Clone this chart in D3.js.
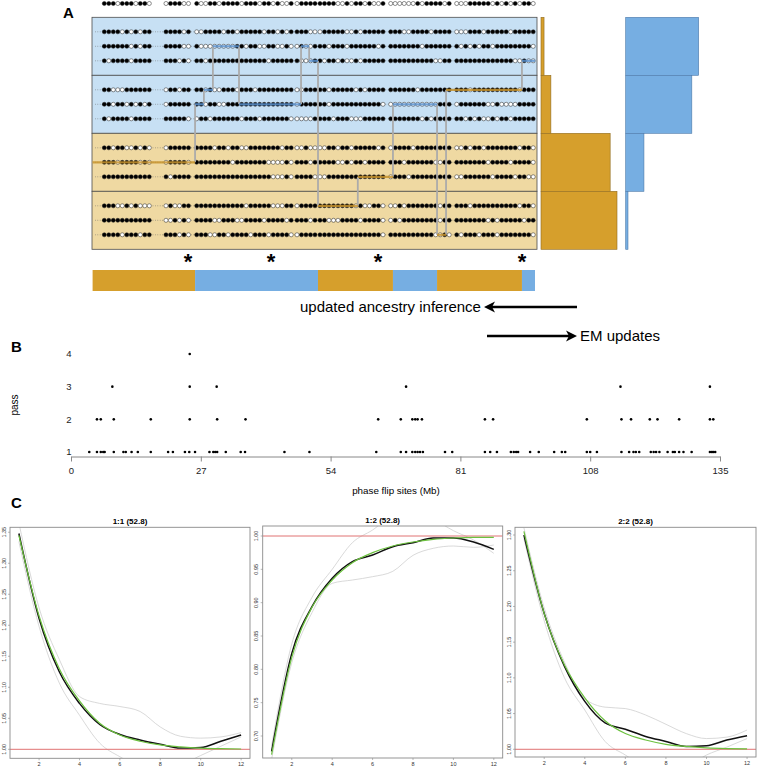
<!DOCTYPE html>
<html>
<head>
<meta charset="utf-8">
<script src="https://cdn.jsdelivr.net/npm/d3@7"></script>
<style>
body { margin: 0; background: #fff; }
svg { display: block; font-family: "Liberation Sans", Arial, sans-serif; }
</style>
</head>
<body>
<svg id="fig" width="757" height="768"></svg>
<script>
// ---------- data: panel A ----------
var topHap = "11101110110 011100 1001101111011101101001 01111 111100101101001 00000010111101 000111110101010110";

var haps = [
    "11110101011 111101 0011110110111110110101 11100 011111001011111 11100111101111 000111011111011111",
    "11111101011 111100 1000000001101100110010 01001 110111011111101 11111110111111 101010110111111110",
    "10111101111 111010 1101111111111111011111 10001 101101001011111 11111111110011 111111111111100100",
    "11000111111 011011 1101001110111011111111 00111 110111110101111 11111101111111 111011111111110111",
    "11011010101 011111 1101100111111111111111 01111 110111111111110 00000000000111 011111100100001111",
    "10111101111 111110 0110111111011101111110 00001 111011100011111 11111110101111 110101001011011111",
    "11011001010 011111 1111011011001111111011 00100 001101101111101 01111011111111 001011011111110110",
    "11101111010 011110 1111111101111111000010 11101 111100101101111 11101111110011 111111101111011110",
    "11111111111 101111 1111111111111111100010 11110 001111111111111 01110111111111 001111110111101100",
    "11100101000 010011 1111111111101111100011 01111 111111110100110 00101111111011 111011111111110110",
    "11111111111 001010 1111001110011110111101 11101 110001111011110 01011111111011 111111101011111011",
    "11110111011 111010 1110011011110111011110 01111 111111111111110 11111111110010 101110111011111110"
];

var blockAnc = ["blue", "blue", "tan", "tan"];
var tanShare = [0.04, 0.13, 0.91, 1.00];
var blueShare = [0.96, 0.87, 0.24, 0.03];

// breakpoints are in dot-index units
var ancestry = [
    {from: -2.6, to: 16.8, anc: "tan"},
    {from: 16.8, to: 43.6, anc: "blue"},
    {from: 43.6, to: 59.5, anc: "tan"},
    {from: 59.5, to: 69.3, anc: "blue"},
    {from: 69.3, to: 87.5, anc: "tan"},
    {from: 87.5, to: 90.4, anc: "blue"}
];
var switches = [
    {at: 16.8, r1: 4, r2: 7},
    {at: 18.6, r1: 3, r2: 4},
    {at: 20.6, r1: 1, r2: 3},
    {at: 26.4, r1: 1, r2: 4},
    {at: 39.9, r1: 1, r2: 4},
    {at: 41.7, r1: 1, r2: 2},
    {at: 43.6, r1: 2, r2: 9},
    {at: 52.4, r1: 8, r2: 9},
    {at: 59.5, r1: 4, r2: 8},
    {at: 69.3, r1: 4, r2: 11},
    {at: 71.3, r1: 3, r2: 11},
    {at: 87.5, r1: 2, r2: 3}
];
var swapped = [
    {row: 1, from: 20.6, to: 26.4, anc: "blue"},
    {row: 3, from: 18.6, to: 20.6, anc: "blue"},
    {row: 4, from: 16.8, to: 18.6, anc: "blue"},
    {row: 4, from: 26.4, to: 39.9, anc: "blue"},
    {row: 1, from: 39.9, to: 41.7, anc: "blue"},
    {row: 2, from: 41.7, to: 43.6, anc: "blue"},
    {row: 2, from: 87.5, to: 90.4, anc: "blue"},
    {row: 4, from: 59.5, to: 69.3, anc: "blue"},
    {row: 3, from: 71.3, to: 87.5, anc: "tan"},
    {row: 7, from: -2.6, to: 16.8, anc: "tan"},
    {row: 8, from: 52.4, to: 59.5, anc: "tan"},
    {row: 9, from: 43.6, to: 52.4, anc: "tan"},
    {row: 11, from: 69.3, to: 71.3, anc: "tan"}
];
var stars = [15.9, 33.5, 56.9, 87.5];

// ---------- data: panel B ----------
var pass1 = [3.8, 5.4, 6.2, 6.7, 7.0, 8.9, 10.9, 11.4, 12.6, 13.9, 16.6, 20.2, 21.2, 23.7, 24.6, 25.8,
    28.8, 29.6, 30.0, 30.4, 32.2, 35.3, 36.2, 44.4, 49.6, 63.5, 68.6, 69.7, 71.0, 71.6, 72.1, 72.6, 73.2,
    77.8, 79.3, 86.1, 87.2, 88.6, 91.5, 92.1, 92.6, 93.0, 95.5, 97.3, 100.5, 102.1, 102.8, 107.3, 108.0,
    109.4, 114.5, 116.1, 117.0, 117.5, 118.2, 120.6, 121.2, 121.7, 122.4, 124.1, 125.2, 125.6, 126.5,
    127.4, 129.1, 132.9, 133.3, 133.6, 134.0];
var pass2 = [5.4, 6.2, 8.9, 16.6, 24.7, 30.4, 36.3, 63.9, 68.6, 71.0, 71.6, 72.1, 73.0, 86.1, 87.8,
    107.3, 114.5, 116.5, 120.4, 122.0, 126.5, 132.9, 133.6];
var pass3 = [8.6, 24.7, 30.3, 69.7, 114.3, 132.9];
var pass4 = [24.7];
var mbTicks = [0, 27, 54, 81, 108, 135];
var passTicks = [1, 2, 3, 4];

// ---------- data: panel C ----------
var lag = [1, 2, 3, 4, 5, 6, 7, 8, 9, 10, 11, 12];
var lagTicks = [2, 4, 6, 8, 10, 12];

var c11Obs = [1.348, 1.211, 1.125, 1.074, 1.040, 1.024, 1.015, 1.008, 1.002, 1.003, 1.013, 1.023];
var c11Fit = [1.345, 1.215, 1.130, 1.078, 1.042, 1.023, 1.013, 1.007, 1.004, 1.002, 1.001, 1.0005];
var c11Hi  = [1.365, 1.228, 1.145, 1.085, 1.074, 1.069, 1.061, 1.036, 1.021, 1.018, 1.020, 1.027];
var c11Lo  = [1.335, 1.198, 1.107, 1.055, 1.010, 0.988, 0.972, 0.966, 0.975, 0.990, 1.005, 1.020];

var c12Obs = [0.677, 0.824, 0.894, 0.9365, 0.9615, 0.9715, 0.984, 0.990, 0.997, 0.997, 0.991, 0.980];
var c12Fit = [0.672, 0.818, 0.893, 0.934, 0.960, 0.975, 0.985, 0.991, 0.995, 0.997, 0.998, 0.998];
var c12Hi  = [0.685, 0.838, 0.908, 0.950, 0.990, 1.009, 1.030, 1.035, 1.025, 1.008, 0.994, 0.974];
var c12Lo  = [0.665, 0.810, 0.885, 0.929, 0.934, 0.939, 0.947, 0.971, 0.9815, 0.985, 0.983, 0.9865];

var c22Obs = [1.300, 1.190, 1.116, 1.067, 1.037, 1.028, 1.018, 1.011, 1.004, 1.005, 1.013, 1.019];
var c22Fit = [1.305, 1.190, 1.118, 1.072, 1.040, 1.022, 1.013, 1.007, 1.004, 1.002, 1.001, 1.0005];
var c22Hi  = [1.310, 1.198, 1.122, 1.071, 1.059, 1.057, 1.048, 1.035, 1.022, 1.015, 1.017, 1.027];
var c22Lo  = [1.295, 1.180, 1.100, 1.055, 1.011, 0.992, 0.975, 0.968, 0.975, 0.992, 1.003, 1.015];

// ---------- styles ----------
var TAN = "#D69F2C", BLUE = "#76AEE2";
var TAN_BG = "#EFD9A2", BLUE_BG = "#C7E0F4";
var TAN_LINE = "#C9952E", BLUE_LINE = "#5B92CF";

var svg = d3.select("#fig");

function panelLetter(t, x, y) {
    svg.append("text").attr("x", x).attr("y", y).text(t)
        .style("font-size", "15px").style("font-weight", "bold");
}

// ===================== PANEL A =====================
panelLetter("A", 63, 18);

// piecewise scale: dot index -> x (groups of dots with gaps between them)
var dotX = d3.scaleLinear()
    .domain([0, 10, 11, 16, 17, 38, 39, 43, 44, 58, 59, 72, 73, 90])
    .range([104.3, 149.3, 166, 188.5, 196.7, 291.2, 297, 315, 320, 383, 390.7, 449.2, 456.7, 533.2]);

var blockY = d3.scaleBand().domain([0, 1, 2, 3]).range([17.3, 249.3]);
var rowOffset = [14.5, 29, 43.5];
function rowY(r) { return blockY(Math.floor(r / 3)) + rowOffset[r % 3]; }

function parseHap(s) {
    return s.replace(/ /g, "").split("").map(function(c, i) { return {i: i, v: +c}; });
}

// blocks
svg.selectAll(".block").data(blockAnc).enter().append("rect")
    .attr("class", "block")
    .attr("x", 92).attr("width", 445)
    .attr("y", function(d, i) { return blockY(i); })
    .attr("height", blockY.bandwidth())
    .attr("fill", function(d) { return d == "blue" ? BLUE_BG : TAN_BG; })
    .attr("stroke", "#4d4d4d").attr("stroke-width", 0.8);

// dotted guide lines for each haplotype row
svg.selectAll(".guide").data(haps).enter().append("line")
    .attr("class", "guide")
    .attr("x1", 95).attr("x2", 533)
    .attr("y1", function(d, i) { return rowY(i); })
    .attr("y2", function(d, i) { return rowY(i); })
    .attr("stroke", "#666").attr("stroke-width", 0.6)
    .attr("stroke-dasharray", "0.8,1.6");

function drawHap(s, y) {
    svg.append("g").selectAll("circle").data(parseHap(s)).enter().append("circle")
        .attr("cx", function(d) { return dotX(d.i); })
        .attr("cy", y)
        .attr("r", 2.05)
        .attr("fill", function(d) { return d.v ? "#000" : "#fff"; })
        .attr("stroke", "#222").attr("stroke-width", 0.5);
}
drawHap(topHap, 3.5);
haps.forEach(function(h, r) { drawHap(h, rowY(r)); });

// switch lines
svg.selectAll(".switch").data(switches).enter().append("line")
    .attr("class", "switch")
    .attr("x1", function(d) { return dotX(d.at); })
    .attr("x2", function(d) { return dotX(d.at); })
    .attr("y1", function(d) { return rowY(d.r1); })
    .attr("y2", function(d) { return rowY(d.r2); })
    .attr("stroke", "#ababab").attr("stroke-width", 1.8);

// swapped segments
svg.selectAll(".swap").data(swapped).enter().append("line")
    .attr("class", "swap")
    .attr("x1", function(d) { return dotX(d.from); })
    .attr("x2", function(d) { return dotX(d.to); })
    .attr("y1", function(d) { return rowY(d.row); })
    .attr("y2", function(d) { return rowY(d.row); })
    .attr("stroke", function(d) { return d.anc == "blue" ? BLUE_LINE : TAN_LINE; })
    .attr("stroke-width", 2.2).attr("opacity", 0.85);

// side bars
var shareX = d3.scaleLinear().domain([0, 1]).range([0, 76]);
svg.selectAll(".tanbar").data(tanShare).enter().append("rect")
    .attr("x", 541).attr("y", function(d, i) { return blockY(i); })
    .attr("width", function(d) { return shareX(d); })
    .attr("height", blockY.bandwidth())
    .attr("fill", TAN).attr("stroke", "#8f6b22").attr("stroke-width", 0.6);
svg.selectAll(".bluebar").data(blueShare).enter().append("rect")
    .attr("x", 625.7).attr("y", function(d, i) { return blockY(i); })
    .attr("width", function(d) { return shareX(d); })
    .attr("height", blockY.bandwidth())
    .attr("fill", BLUE).attr("stroke", "#4d79a8").attr("stroke-width", 0.6);

// stars
svg.selectAll(".star").data(stars).enter().append("text")
    .attr("x", function(d) { return dotX(d); }).attr("y", 269)
    .attr("text-anchor", "middle")
    .style("font-size", "22px").style("font-weight", "bold")
    .text("*");

// ancestry bar
svg.selectAll(".anc").data(ancestry).enter().append("rect")
    .attr("x", function(d) { return dotX(d.from); })
    .attr("width", function(d) { return dotX(d.to) - dotX(d.from); })
    .attr("y", 270).attr("height", 21)
    .attr("fill", function(d) { return d.anc == "blue" ? BLUE : TAN; });

// arrows
function arrow(x1, x2, y) {
    var dir = x2 > x1 ? 1 : -1;
    svg.append("line").attr("x1", x1).attr("x2", x2 - dir * 8).attr("y1", y).attr("y2", y)
        .attr("stroke", "#000").attr("stroke-width", 2.6);
    svg.append("path")
        .attr("d", "M" + x2 + "," + y + "L" + (x2 - dir * 11) + "," + (y - 5.5) +
            "L" + (x2 - dir * 8) + "," + y + "L" + (x2 - dir * 11) + "," + (y + 5.5) + "Z")
        .attr("fill", "#000");
}
arrow(577, 484, 307);
svg.append("text").attr("x", 300).attr("y", 312).text("updated ancestry inference")
    .style("font-size", "15px");
arrow(487, 577, 336);
svg.append("text").attr("x", 580).attr("y", 341).text("EM updates")
    .style("font-size", "15px");

// ===================== PANEL B =====================
panelLetter("B", 11, 352);
var bx = d3.scaleLinear().domain([0, 135]).range([71, 720]);
var by = d3.scaleLinear().domain([1, 4]).range([452, 354]);

var bAxis = svg.append("g").attr("transform", "translate(0,456.5)")
    .call(d3.axisBottom(bx).tickValues(mbTicks).tickSize(5).tickSizeOuter(0));
bAxis.select(".domain").attr("stroke", "#888");
bAxis.selectAll(".tick line").attr("stroke", "#888");
bAxis.selectAll("text").style("font-size", "9.5px").style("font-family", "'Liberation Sans', Arial, sans-serif")
    .attr("fill", "#222").attr("dy", "1.05em");

svg.selectAll(".ptick").data(passTicks).enter().append("text")
    .attr("x", 69).attr("y", function(d) { return by(d) + 3.3; })
    .attr("text-anchor", "middle").style("font-size", "9.5px").attr("fill", "#222")
    .text(function(d) { return d; });

svg.append("text").attr("transform", "translate(18,405) rotate(-90)")
    .attr("text-anchor", "middle").style("font-size", "10px").text("pass");
svg.append("text").attr("x", 396).attr("y", 494)
    .attr("text-anchor", "middle").style("font-size", "9.8px").text("phase flip sites (Mb)");

[pass1, pass2, pass3, pass4].forEach(function(arr, k) {
    svg.append("g").selectAll("circle").data(arr).enter().append("circle")
        .attr("cx", function(d) { return bx(d); })
        .attr("cy", by(k + 1))
        .attr("r", 1.3).attr("fill", "#000");
});

// ===================== PANEL C =====================
panelLetter("C", 11, 508);

var cPanels = [
    {title: "1:1 (52.8)", obs: c11Obs, fit: c11Fit, hi: c11Hi, lo: c11Lo,
     x0: 10, x1: 250, y0: 527.3, y1: 758.3, ydom: [0.9855, 1.358],
     yticks: [1.00, 1.05, 1.10, 1.15, 1.20, 1.25, 1.30, 1.35]},
    {title: "1:2 (52.8)", obs: c12Obs, fit: c12Fit, hi: c12Hi, lo: c12Lo,
     x0: 262.7, x1: 502.7, y0: 526, y1: 758, ydom: [0.667, 1.015],
     yticks: [0.70, 0.75, 0.80, 0.85, 0.90, 0.95, 1.00]},
    {title: "2:2 (52.8)", obs: c22Obs, fit: c22Fit, hi: c22Hi, lo: c22Lo,
     x0: 515, x1: 756, y0: 527.3, y1: 757, ydom: [0.9892, 1.3108],
     yticks: [1.00, 1.05, 1.10, 1.15, 1.20, 1.25, 1.30]}
];

cPanels.forEach(function(p, k) {
    var x = d3.scaleLinear().domain([0.56, 12.44]).range([p.x0, p.x1]);
    var y = d3.scaleLinear().domain(p.ydom).range([p.y1, p.y0]);
    var g = svg.append("g");

    g.append("clipPath").attr("id", "clip" + k).append("rect")
        .attr("x", p.x0).attr("y", p.y0).attr("width", p.x1 - p.x0).attr("height", p.y1 - p.y0);
    var plot = g.append("g").attr("clip-path", "url(#clip" + k + ")");

    var line = d3.line().x(function(d, i) { return x(lag[i]); }).y(function(d) { return y(d); })
        .curve(d3.curveMonotoneX);

    plot.append("path").datum(p.hi).attr("d", line).attr("fill", "none")
        .attr("stroke", "#cfcfcf").attr("stroke-width", 0.8);
    plot.append("path").datum(p.lo).attr("d", line).attr("fill", "none")
        .attr("stroke", "#cfcfcf").attr("stroke-width", 0.8);
    plot.append("line").attr("x1", p.x0).attr("x2", p.x1)
        .attr("y1", y(1)).attr("y2", y(1))
        .attr("stroke", "#e07272").attr("stroke-width", 1);
    plot.append("path").datum(p.obs).attr("d", line).attr("fill", "none")
        .attr("stroke", "#111").attr("stroke-width", 1.5);
    plot.append("path").datum(p.fit).attr("d", line).attr("fill", "none")
        .attr("stroke", "#6cc13f").attr("stroke-width", 1.2);

    g.append("rect").attr("x", p.x0).attr("y", p.y0)
        .attr("width", p.x1 - p.x0).attr("height", p.y1 - p.y0)
        .attr("fill", "none").attr("stroke", "#8a8a8a").attr("stroke-width", 0.9);

    g.append("text").attr("x", (p.x0 + p.x1) / 2).attr("y", p.y0 - 3)
        .attr("text-anchor", "middle").style("font-size", "8px").style("font-weight", "bold")
        .text(p.title);

    // x ticks
    g.selectAll(".xt").data(lagTicks).enter().append("line")
        .attr("x1", function(d) { return x(d); }).attr("x2", function(d) { return x(d); })
        .attr("y1", p.y1).attr("y2", p.y1 + 2).attr("stroke", "#8a8a8a").attr("stroke-width", 0.6);
    g.selectAll(".xl").data(lagTicks).enter().append("text")
        .attr("x", function(d) { return x(d); }).attr("y", p.y1 + 8)
        .attr("text-anchor", "middle").style("font-size", "5.5px").attr("fill", "#333")
        .text(function(d) { return d; });

    // y ticks (rotated labels)
    g.selectAll(".yt").data(p.yticks).enter().append("line")
        .attr("x1", p.x0 - 2).attr("x2", p.x0)
        .attr("y1", function(d) { return y(d); }).attr("y2", function(d) { return y(d); })
        .attr("stroke", "#8a8a8a").attr("stroke-width", 0.6);
    g.selectAll(".yl").data(p.yticks).enter().append("text")
        .attr("transform", function(d) { return "translate(" + (p.x0 - 4.5) + "," + y(d) + ") rotate(-90)"; })
        .attr("text-anchor", "middle").style("font-size", "5.5px").attr("fill", "#333")
        .text(function(d) { return d.toFixed(2); });
});
</script>
</body>
</html>
